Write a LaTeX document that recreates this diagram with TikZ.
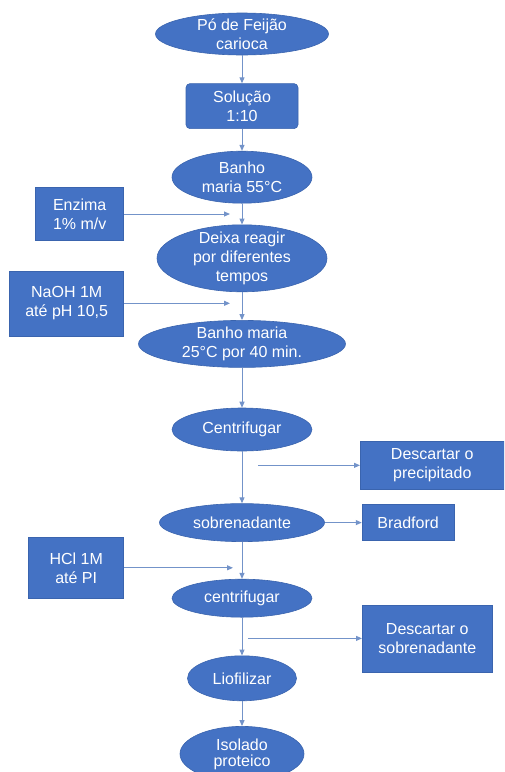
\documentclass[tikz,border=0pt]{standalone}
\usepackage{fontspec}
\setmainfont{Liberation Sans}
\usetikzlibrary{positioning, arrows.meta, shapes.geometric, calc}
\definecolor{boxblue}{HTML}{4472C4}
\definecolor{edgeblue}{HTML}{3A64AE}
\definecolor{lineblue}{HTML}{7393C9}

\begin{document}
\begin{tikzpicture}[
    node distance=20pt,
    blob/.style={ellipse, fill=boxblue, draw=edgeblue, line width=0.6pt, text=white, font=\fontsize{16}{19}\selectfont, align=center, inner xsep=0pt, inner ysep=-3pt},
    box/.style={rectangle, fill=boxblue, draw=edgeblue, line width=0.6pt, text=white, font=\fontsize{16}{19}\selectfont, align=center, inner sep=2pt},
    arr/.style={-{Triangle[length=6pt,width=5pt]}, draw=lineblue, line width=1pt},
]
\clip (0,0) rectangle (504pt,-772pt);

% Main line
\node[blob, minimum width=173pt, minimum height=42pt] (po) at (242pt,-34pt) {Pó de Feijão\\carioca};
\node[box, rounded corners=4pt, minimum width=112pt, minimum height=45pt, below=28pt of po] (sol) {Solução\\1:10};
\node[blob, minimum width=140pt, minimum height=52pt, below=22pt of sol] (banho1) {Banho\\maria 55°C};
\node[blob, minimum width=170pt, minimum height=67pt, below=21pt of banho1] (deixa) {Deixa reagir\\por diferentes\\tempos};
\node[blob, minimum width=207pt, minimum height=47pt, below=28pt of deixa] (banho2) {Banho maria\\25°C por 40 min.};
\node[blob, minimum width=140pt, minimum height=43pt, below=40pt of banho2] (centr1) {Centrifugar};
\node[blob, minimum width=165pt, minimum height=38pt, below=52pt of centr1] (sobren) {sobrenadante};
\node[blob, minimum width=140pt, minimum height=38pt, below=37pt of sobren] (centr2) {centrifugar};
\node[blob, minimum width=109pt, minimum height=45pt, below=38pt of centr2] (liof) {Liofilizar};
\node[blob, minimum width=124pt, minimum height=55pt, font=\fontsize{16}{16}\selectfont, below=25pt of liof] (iso) {Isolado\\proteico};

% Points on the main line
\coordinate (m1) at ($(banho1.south)!0.5!(deixa.north)$);
\coordinate (m2) at ($(deixa.south)!0.4!(banho2.north)$);
\coordinate (m3) at ($(centr1.south)!0.27!(sobren.north)$);
\coordinate (m4) at ($(sobren.south)!0.7!(centr2.north)$);
\coordinate (m5) at ($(centr2.south)!0.55!(liof.north)$);

% Side boxes
\node[box, minimum width=88pt, minimum height=53pt, left=118pt of m1] (enz) {Enzima\\1\% m/v};
\node[box, minimum width=114pt, minimum height=65pt, left=118pt of m2] (naoh) {NaOH 1M\\até pH 10,5};
\node[box, minimum width=95pt, minimum height=61pt, left=118pt of m4] (hcl) {HCl 1M\\até PI};
\node[box, minimum width=144pt, minimum height=48pt, right=118pt of m3] (desc1) {Descartar o\\precipitado};
\node[box, minimum width=92pt, minimum height=36pt, right=37pt of sobren] (brad) {Bradford};
\node[box, minimum width=130pt, minimum height=67pt, right=120pt of m5] (desc2) {Descartar o\\sobrenadante};

% Free ends of side arrows
\coordinate (e1) at ([xshift=-12pt]m1);
\coordinate (e2) at ([xshift=-12pt]m2);
\coordinate (e4) at ([xshift=-9pt]m4);
\coordinate (s3) at ([xshift=16pt]m3);
\coordinate (s5) at ([xshift=6pt]m5);

% Main arrows
\draw[arr] (po) -- (sol);
\draw[arr] (sol) -- (banho1);
\draw[arr] (banho1) -- (deixa);
\draw[arr] (deixa) -- (banho2);
\draw[arr] (banho2) -- (centr1);
\draw[arr] (centr1) -- (sobren);
\draw[arr] (sobren) -- (centr2);
\draw[arr] (centr2) -- (liof);
\draw[arr] (liof) -- (iso);

% Side arrows
\draw[arr] (enz.east) -- (e1);
\draw[arr] (naoh.east) -- (e2);
\draw[arr] (hcl.east) -- (e4);
\draw[arr] (s3) -- (desc1.west);
\draw[arr] (sobren) -- (brad);
\draw[arr] (s5) -- (desc2.west);
\end{tikzpicture}
\end{document}
